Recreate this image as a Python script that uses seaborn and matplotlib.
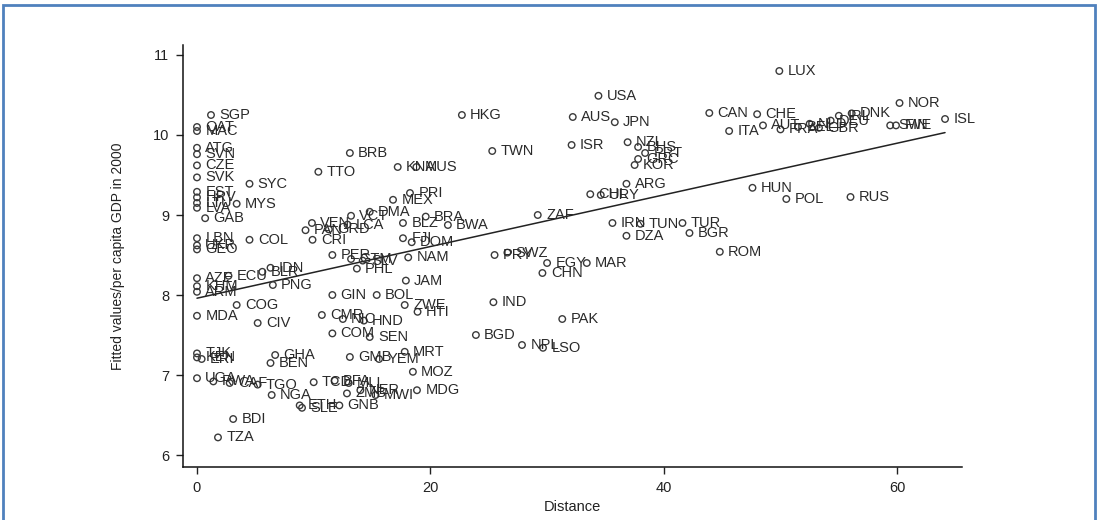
import matplotlib
matplotlib.use("Agg")
import matplotlib.pyplot as plt
import seaborn as sns
import pandas as pd
from matplotlib.patches import Rectangle

countries = ["SGP", "QAT", "MAC", "ATG", "SVN", "CZE", "SVK", "SYC", "EST", "HRV",
             "LTU", "LVA", "MYS", "GAB", "LBN", "UKR", "GEO", "COL", "CRI", "AZE",
             "ECU", "BLR", "IDN", "KHM", "ARM", "PNG", "COG", "MDA", "CIV", "TJK",
             "KEN", "ERI", "GHA", "BEN", "GMB", "UGA", "RWA", "CAF", "TGO", "TCD",
             "BFA", "MLI", "NER", "NGA", "ZMB", "MWI", "ETH", "SLE", "GNB", "BDI",
             "TZA",
             "PRI", "MEX", "VEN", "VCT", "DMA", "BRA", "PAN", "GRD", "LCA", "BLZ",
             "BWA", "FJI", "DOM", "PER", "GTM", "SLV", "NAM", "PHL", "JAM", "GIN",
             "BOL", "ZWE", "HTI", "CMR", "NIC", "HND", "COM", "SEN", "MRT", "YEM",
             "MOZ", "MDG",
             "HKG", "TWN", "KNA", "MUS", "BRB", "TTO", "USA", "AUS", "JPN", "ISR",
             "NZL", "BHS", "PRT", "GRC", "KOR", "ARG", "CHL", "URY", "ZAF", "IRN",
             "TUN", "TUR", "DZA", "BGR", "ROM", "HUN", "POL", "RUS", "LUX", "CAN",
             "CHE", "ITA", "AUT", "FRA", "BEL", "NLD", "GBR", "DEU", "IRL", "DNK",
             "NOR", "SWE", "FIN", "ISL", "IND", "PRY", "SWZ", "EGY", "MAR", "CHN",
             "PAK", "BGD", "NPL", "LSO"]

distance = [1.2, 0.0, 0.0, 0.0, 0.0, 0.0, 0.0, 4.5, 0.0, 0.0,
            0.0, 0.0, 3.4, 0.7, 0.0, 0.0, 0.0, 4.5, 9.9, 0.0,
            2.7, 5.6, 6.3, 0.0, 0.0, 6.5, 3.4, 0.0, 5.2, 0.0,
            0.0, 0.4, 6.7, 6.3, 13.1, 0.0, 1.4, 2.8, 5.2, 10.0,
            11.8, 13.0, 14.0, 6.4, 12.85, 15.3, 8.8, 9.0, 12.2, 3.1,
            1.8,
            18.25, 16.8, 9.85, 13.2, 14.8, 19.6, 9.3, 11.3, 12.9, 17.65,
            21.5, 17.65, 18.4, 11.6, 13.2, 14.2, 18.1, 13.7, 17.9, 11.6,
            15.4, 17.8, 18.9, 10.7, 12.5, 14.3, 11.6, 14.8, 17.8, 15.6,
            18.5, 18.85,
            22.7, 25.3, 17.2, 18.8, 13.1, 10.4, 34.4, 32.2, 35.8, 32.1,
            36.9, 37.8, 38.4, 37.8, 37.5, 36.8, 33.7, 34.6, 29.2, 35.6,
            38.0, 41.6, 36.8, 42.2, 44.8, 47.6, 50.5, 56.0, 49.9, 43.9,
            48.0, 45.6, 48.5, 50.0, 51.5, 52.5, 53.3, 54.3, 55.0, 56.1,
            60.2, 59.4, 59.9, 64.1, 25.4, 25.5, 26.6, 30.0, 33.4, 29.6,
            31.3, 23.9, 27.85, 29.65]

gdp = [10.25, 10.10, 10.05, 9.84, 9.76, 9.62, 9.47, 9.39, 9.29, 9.22,
       9.15, 9.09, 9.14, 8.96, 8.71, 8.62, 8.57, 8.69, 8.69, 8.21,
       8.24, 8.29, 8.34, 8.11, 8.04, 8.125, 7.875, 7.74, 7.65, 7.27,
       7.22, 7.20, 7.25, 7.15, 7.225, 6.96, 6.92, 6.90, 6.88, 6.91,
       6.93, 6.90, 6.81, 6.75, 6.77, 6.75, 6.62, 6.59, 6.62, 6.45,
       6.22,
       9.275, 9.19, 8.90, 8.99, 9.04, 8.98, 8.81, 8.82, 8.88, 8.90,
       8.875, 8.71, 8.66, 8.50, 8.45, 8.43, 8.47, 8.33, 8.18, 8.00,
       8.00, 7.875, 7.79, 7.75, 7.70, 7.68, 7.52, 7.475, 7.29, 7.20,
       7.04, 6.81,
       10.25, 9.80, 9.60, 9.60, 9.775, 9.54, 10.49, 10.225, 10.16, 9.875,
       9.91, 9.85, 9.775, 9.70, 9.625, 9.39, 9.26, 9.25, 9.00, 8.90,
       8.89, 8.90, 8.74, 8.775, 8.54, 9.34, 9.20, 9.225, 10.80, 10.275,
       10.26, 10.05, 10.12, 10.07, 10.10, 10.14, 10.09, 10.18, 10.24, 10.27,
       10.40, 10.12, 10.12, 10.20, 7.91, 8.50, 8.53, 8.40, 8.40, 8.275,
       7.70, 7.50, 7.375, 7.34]

fit_x = [0.0, 64.1]
fit_y = [7.96, 10.03]

x_ticks = [0, 20, 40, 60]
y_ticks = [6, 7, 8, 9, 10, 11]
x_title = "Distance"
y_title = "Fitted values/per capita GDP in 2000"

df = pd.DataFrame({"country": countries, "distance": distance, "gdp": gdp})
fit_df = pd.DataFrame({"distance": fit_x, "gdp": fit_y})

sns.set_style("ticks")
plt.rcParams["font.family"] = ["Liberation Sans", "DejaVu Sans"]

fig = plt.figure(figsize=(10.99, 5.2), dpi=100)
ax = fig.add_axes([0.1665, 0.1019, 0.7088, 0.8108])

ink = "#2a2a2a"
sns.scatterplot(data=df, x="distance", y="gdp", ax=ax, marker="o", s=22,
                facecolor="none", edgecolor="#3a3a3a", linewidth=1.0, zorder=3)
sns.lineplot(data=fit_df, x="distance", y="gdp", ax=ax, color="#222222",
             linewidth=1.1, zorder=2)

for c, xv, yv in zip(df["country"], df["distance"], df["gdp"]):
    ax.annotate(c, (xv, yv), xytext=(6, 0), textcoords="offset points",
                ha="left", va="center", fontsize=10.5, color=ink, zorder=4)

ax.set_xlim(-1.2, 65.55)
ax.set_ylim(5.85, 11.12)
ax.set_xticks(x_ticks)
ax.set_yticks(y_ticks)
ax.tick_params(axis="both", direction="out", length=5, width=1.0,
               labelsize=10.5, colors="#222222", pad=5)
ax.set_xlabel(x_title, fontsize=10.5, color="#222222", labelpad=4)
ax.set_ylabel(y_title, fontsize=10, color="#222222", labelpad=20)
sns.despine(ax=ax)
for sp in ["left", "bottom"]:
    ax.spines[sp].set_color("#111111")
    ax.spines[sp].set_linewidth(1.1)

fig.patches.append(Rectangle((3 / 1099, -0.05), 1092 / 1099, 1.05 - 5 / 520,
                             transform=fig.transFigure, fill=False,
                             edgecolor="#4F81BD", linewidth=2.0))

fig.savefig("out.png", dpi=100, facecolor="white")
